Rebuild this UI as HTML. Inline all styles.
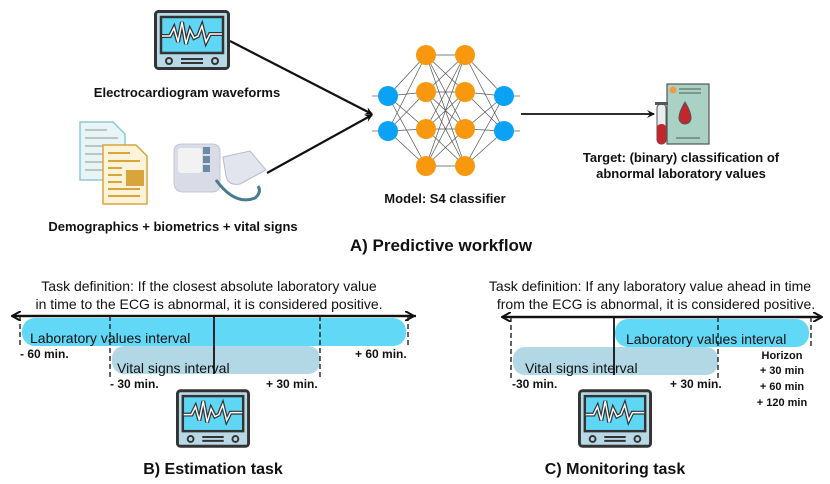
<!DOCTYPE html>
<html><head><meta charset="utf-8"><style>
html,body{margin:0;padding:0;background:#fff;}
svg{display:block}
.b{font-family:"Liberation Sans",sans-serif;font-weight:bold;fill:#111}
.n{font-family:"Liberation Sans Narrow","Liberation Sans",sans-serif;fill:#111}
</style></head><body>
<svg width="830" height="484" viewBox="0 0 830 484" xmlns="http://www.w3.org/2000/svg">
<defs>
<symbol id="mon" viewBox="0 0 76 60">
<rect x="1.5" y="1.5" width="73" height="57" rx="3" fill="#b7d9e6" stroke="#333" stroke-width="3"/>
<rect x="7" y="7" width="62" height="36" fill="#5fd6f4" stroke="#333" stroke-width="2.5"/>
<polyline points="8,26 16,26 20,18 24,32 28,12 32,34 36,20 40,28 44,26 48,16 52,32 56,24 68,24" fill="none" stroke="#333" stroke-width="4"/>
<polyline points="8,26 16,26 20,18 24,32 28,12 32,34 36,20 40,28 44,26 48,16 52,32 56,24 68,24" fill="none" stroke="#fff" stroke-width="1.5"/>
<circle cx="15" cy="51" r="3" fill="none" stroke="#333" stroke-width="2"/>
<circle cx="61" cy="51" r="3" fill="none" stroke="#333" stroke-width="2"/>
<line x1="27" y1="49" x2="49" y2="49" stroke="#333" stroke-width="2"/>
<line x1="27" y1="53" x2="49" y2="53" stroke="#333" stroke-width="2"/>
</symbol>
<marker id="ah" markerWidth="8" markerHeight="8" refX="7" refY="4" orient="auto" markerUnits="userSpaceOnUse"><path d="M0,0 L8,4 L0,8 L3,4 Z" fill="#111"/></marker>
<marker id="ar" markerWidth="10" markerHeight="10" refX="9" refY="5" orient="auto" markerUnits="userSpaceOnUse"><path d="M0,0 L9,5 L0,10" fill="none" stroke="#111" stroke-width="2"/></marker>
</defs>

<use href="#mon" x="154" y="10" width="76" height="60"/>
<text class="b" x="187" y="97" font-size="13" text-anchor="middle">Electrocardiogram waveforms</text>

<path d="M80,122 L113,122 L125,134 L125,180 L80,180 Z" fill="#e8f4f6" stroke="#8ccbd2" stroke-width="1.5"/>
<g stroke="#b8c6c8" stroke-width="2"><line x1="85" y1="130" x2="107" y2="130"/><line x1="85" y1="138" x2="118" y2="138"/><line x1="85" y1="146" x2="118" y2="146"/><line x1="85" y1="154" x2="118" y2="154"/><line x1="85" y1="162" x2="118" y2="162"/><line x1="85" y1="170" x2="110" y2="170"/></g>
<path d="M103,145 L136,145 L147,156 L147,204 L103,204 Z" fill="#fdf3d8" stroke="#d8a53c" stroke-width="1.5"/>
<g stroke="#d8a53c" stroke-width="2"><line x1="108" y1="153" x2="130" y2="153"/><line x1="108" y1="161" x2="140" y2="161"/><line x1="108" y1="168" x2="122" y2="168"/><line x1="108" y1="175" x2="122" y2="175"/><line x1="108" y1="182" x2="122" y2="182"/><line x1="108" y1="189" x2="140" y2="189"/><line x1="108" y1="196" x2="140" y2="196"/></g>
<rect x="126" y="170" width="18" height="16" fill="#d8a53c"/>
<!-- BP monitor -->
<path d="M174,152 Q174,144 182,144 L212,144 Q220,144 220,152 L220,184 Q220,192 212,192 L184,192 Q174,192 174,182 Z" fill="#d9dbe6" stroke="#c4c6d4"/>
<rect x="178" y="148" width="24" height="25" rx="3" fill="#f2f2f2"/>
<rect x="203" y="147" width="7" height="7" fill="#6b8aa8"/><rect x="203" y="156" width="7" height="7" fill="#6b8aa8"/><rect x="203" y="165" width="7" height="7" fill="#6b8aa8"/>
<path d="M216,180 Q235,206 255,198 Q262,192 258,186" fill="none" stroke="#4a7a90" stroke-width="3"/>
<path d="M223,157 L250,151 L266,170 L240,184 Q228,186 226,176 Z" fill="#e3e5ee" stroke="#b8bac8"/>
<text class="b" x="173" y="231" font-size="13" text-anchor="middle">Demographics + biometrics + vital signs</text>

<line x1="230" y1="41" x2="372" y2="114" stroke="#111" stroke-width="2.2" marker-end="url(#ah)"/>
<line x1="267" y1="173" x2="372" y2="115" stroke="#111" stroke-width="2.2" marker-end="url(#ah)"/>

<g stroke="#555" stroke-width="0.7">
<line x1="388" y1="96" x2="426" y2="55"/><line x1="388" y1="96" x2="426" y2="92"/><line x1="388" y1="96" x2="426" y2="129"/><line x1="388" y1="96" x2="426" y2="166"/>
<line x1="388" y1="131" x2="426" y2="55"/><line x1="388" y1="131" x2="426" y2="92"/><line x1="388" y1="131" x2="426" y2="129"/><line x1="388" y1="131" x2="426" y2="166"/>
<line x1="426" y1="55" x2="465" y2="55"/><line x1="426" y1="55" x2="465" y2="92"/><line x1="426" y1="55" x2="465" y2="129"/><line x1="426" y1="55" x2="465" y2="166"/>
<line x1="426" y1="92" x2="465" y2="55"/><line x1="426" y1="92" x2="465" y2="92"/><line x1="426" y1="92" x2="465" y2="129"/><line x1="426" y1="92" x2="465" y2="166"/>
<line x1="426" y1="129" x2="465" y2="55"/><line x1="426" y1="129" x2="465" y2="92"/><line x1="426" y1="129" x2="465" y2="129"/><line x1="426" y1="129" x2="465" y2="166"/>
<line x1="426" y1="166" x2="465" y2="55"/><line x1="426" y1="166" x2="465" y2="92"/><line x1="426" y1="166" x2="465" y2="129"/><line x1="426" y1="166" x2="465" y2="166"/>
<line x1="465" y1="55" x2="504" y2="96"/><line x1="465" y1="92" x2="504" y2="96"/><line x1="465" y1="129" x2="504" y2="96"/><line x1="465" y1="166" x2="504" y2="96"/>
<line x1="465" y1="55" x2="504" y2="131"/><line x1="465" y1="92" x2="504" y2="131"/><line x1="465" y1="129" x2="504" y2="131"/><line x1="465" y1="166" x2="504" y2="131"/>
<line x1="372" y1="96" x2="388" y2="96"/><line x1="372" y1="131" x2="388" y2="131"/><line x1="504" y1="96" x2="520" y2="96"/><line x1="504" y1="131" x2="520" y2="131"/>
</g>
<g fill="#0aa2f5"><circle cx="388" cy="96" r="10"/><circle cx="388" cy="131" r="10"/><circle cx="504" cy="96" r="10"/><circle cx="504" cy="131" r="10"/></g>
<g fill="#f7980f"><circle cx="426" cy="55" r="10"/><circle cx="426" cy="92" r="10"/><circle cx="426" cy="129" r="10"/><circle cx="426" cy="166" r="10"/><circle cx="465" cy="55" r="10"/><circle cx="465" cy="92" r="10"/><circle cx="465" cy="129" r="10"/><circle cx="465" cy="166" r="10"/></g>
<text class="b" x="445" y="203" font-size="13" text-anchor="middle">Model: S4 classifier</text>

<line x1="521" y1="114" x2="654" y2="114" stroke="#111" stroke-width="1.8" marker-end="url(#ah)"/>

<rect x="667" y="84" width="42" height="60" fill="#a9d2c4" stroke="#555" stroke-width="1.2"/>
<circle cx="673" cy="90" r="3.5" fill="#f39a4a"/>
<line x1="679" y1="89" x2="701" y2="89" stroke="#555"/><line x1="679" y1="93" x2="701" y2="93" stroke="#555"/>
<path d="M685,102 Q691,112 691,118 A6,6 0 0 1 679,118 Q679,112 685,102 Z" fill="#c0282c" stroke="#555"/>
<line x1="676" y1="138" x2="700" y2="138" stroke="#555"/>
<rect x="657" y="104" width="9" height="40" rx="4" fill="#e8eef0" stroke="#555"/>
<rect x="657" y="124" width="9" height="20" rx="4" fill="#c0282c"/>
<rect x="655" y="102" width="13" height="3" fill="#555"/>
<text class="b" x="681" y="162" font-size="13" text-anchor="middle">Target: (binary) classification of</text>
<text class="b" x="681" y="178" font-size="13" text-anchor="middle">abnormal laboratory values</text>

<text class="b" x="441" y="251" font-size="17" text-anchor="middle">A) Predictive workflow</text>

<text class="n" x="209" y="291" font-size="14" text-anchor="middle">Task definition: If the closest absolute laboratory value</text>
<text class="n" x="209" y="309" font-size="14" text-anchor="middle">in time to the ECG is abnormal, it is considered positive.</text>
<rect x="22" y="318" width="384" height="28" rx="13" fill="#61d8f6"/>
<rect x="112" y="346" width="208" height="28" rx="12" fill="#b2d8e6"/>
<line x1="12" y1="316" x2="414" y2="316" stroke="#111" stroke-width="2.2" marker-end="url(#ar)"/>
<line x1="416" y1="316" x2="12" y2="316" stroke="#111" stroke-width="2.2" marker-end="url(#ar)"/>
<g stroke="#222" stroke-width="1.4" stroke-dasharray="5,3"><line x1="20" y1="316" x2="20" y2="346"/><line x1="110" y1="316" x2="110" y2="378"/><line x1="320" y1="316" x2="320" y2="378"/><line x1="408" y1="316" x2="408" y2="346"/></g>
<line x1="214" y1="316" x2="214" y2="374" stroke="#111" stroke-width="1.8"/>
<text class="n" x="30" y="343" font-size="14">Laboratory values interval</text>
<text class="n" x="117" y="373" font-size="14">Vital signs interval</text>
<text class="n" x="20" y="358" font-size="12" font-weight="bold">- 60 min.</text>
<text class="n" x="355" y="358" font-size="12" font-weight="bold">+ 60 min.</text>
<text class="n" x="110" y="388" font-size="12" font-weight="bold">- 30 min.</text>
<text class="n" x="266" y="388" font-size="12" font-weight="bold">+ 30 min.</text>
<use href="#mon" x="176" y="389" width="74" height="59"/>
<text class="b" x="213" y="474" font-size="16" text-anchor="middle">B) Estimation task</text>

<text class="n" x="650" y="291" font-size="14" text-anchor="middle">Task definition: If any laboratory value ahead in time</text>
<text class="n" x="656" y="309" font-size="14" text-anchor="middle">from the ECG is abnormal, it is considered positive.</text>
<rect x="615" y="319" width="194" height="28" rx="13" fill="#61d8f6"/>
<rect x="513" y="347" width="205" height="28" rx="12" fill="#b2d8e6"/>
<line x1="504" y1="317" x2="822" y2="317" stroke="#111" stroke-width="2.2" marker-end="url(#ar)"/>
<line x1="820" y1="317" x2="502" y2="317" stroke="#111" stroke-width="2.2" marker-end="url(#ar)"/>
<g stroke="#222" stroke-width="1.4" stroke-dasharray="5,3"><line x1="511" y1="317" x2="511" y2="378"/><line x1="718" y1="317" x2="718" y2="378"/><line x1="811" y1="317" x2="811" y2="347"/></g>
<line x1="614" y1="317" x2="614" y2="375" stroke="#111" stroke-width="1.8"/>
<text class="n" x="626" y="344" font-size="14">Laboratory values interval</text>
<text class="n" x="525" y="373" font-size="14">Vital signs interval</text>
<text class="n" x="512" y="388" font-size="12" font-weight="bold">-30 min.</text>
<text class="n" x="670" y="388" font-size="12" font-weight="bold">+ 30 min.</text>
<text class="b" x="782" y="359" font-size="11" text-anchor="middle">Horizon</text>
<text class="b" x="782" y="374" font-size="11" text-anchor="middle">+ 30 min</text>
<text class="b" x="782" y="390" font-size="11" text-anchor="middle">+ 60 min</text>
<text class="b" x="782" y="406" font-size="11" text-anchor="middle">+ 120 min</text>
<use href="#mon" x="578" y="389" width="74" height="59"/>
<text class="b" x="615" y="474" font-size="16" text-anchor="middle">C) Monitoring task</text>
</svg>
</body></html>
